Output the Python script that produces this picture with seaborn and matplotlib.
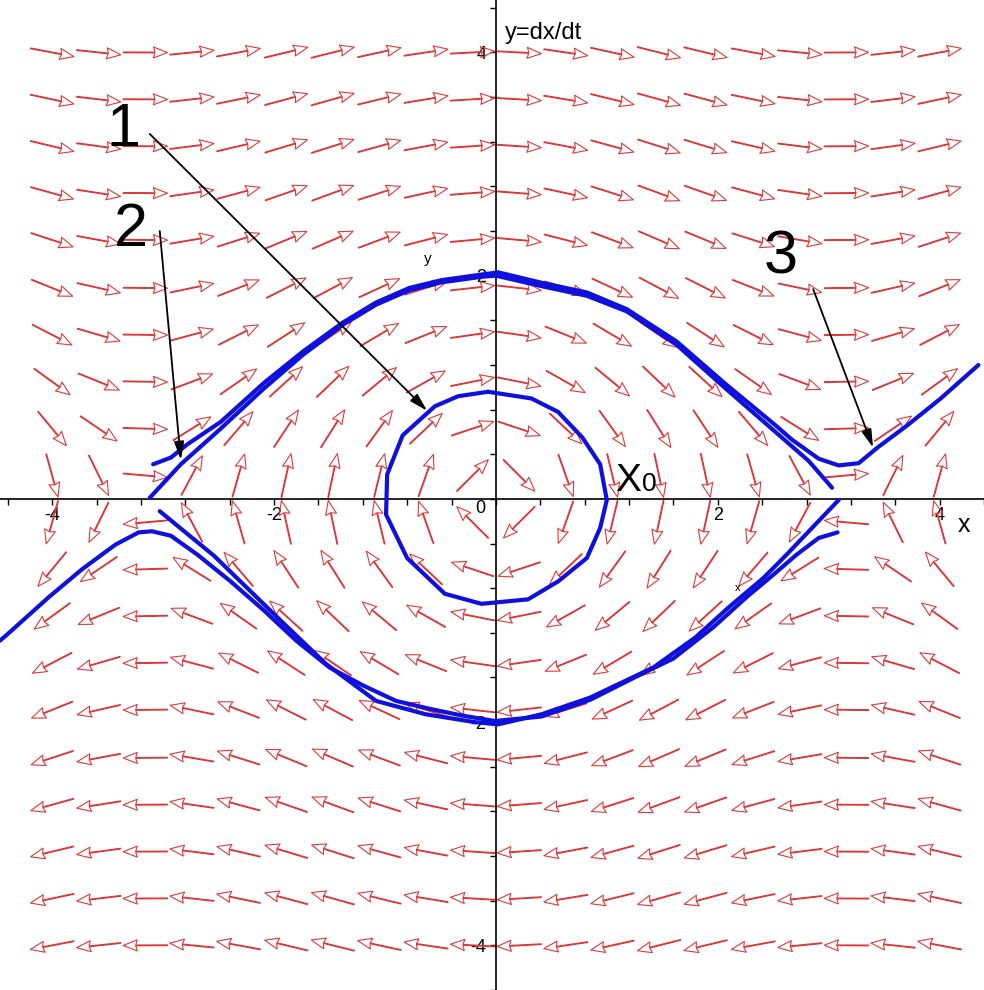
import numpy as np
import pandas as pd
import seaborn as sns
import matplotlib.pyplot as plt

# grid of the direction field (x' = y, y' = -sin x)
grid_x = [-4.0, -3.58, -3.16, -2.74, -2.32, -1.89, -1.47, -1.05, -0.63, -0.21,
          0.21, 0.63, 1.05, 1.47, 1.89, 2.32, 2.74, 3.16, 3.58, 4.0]
grid_y = [-4.0, -3.58, -3.16, -2.74, -2.32, -1.89, -1.47, -1.05, -0.63, -0.21,
          0.21, 0.63, 1.05, 1.47, 1.89, 2.32, 2.74, 3.16, 3.58, 4.0]

# trajectory 1: closed orbit around the centre
orbit_x = [-0.07, 0.32, 0.56, 0.78, 0.94, 1.00, 0.94, 0.82, 0.56, 0.29, -0.13,
           -0.46, -0.80, -0.99, -0.98, -0.84, -0.55, -0.34, -0.07]
orbit_y = [0.96, 0.90, 0.78, 0.55, 0.31, -0.01, -0.26, -0.53, -0.74, -0.90, -0.94,
           -0.85, -0.53, -0.14, 0.22, 0.57, 0.83, 0.92, 0.96]

# upper curve close to the separatrix
upper_x = [-3.12, -2.84, -2.48, -2.09, -1.74, -1.38, -1.08, -0.78, -0.49, -0.13,
           0.0, 0.44, 0.82, 1.18, 1.63, 2.07, 2.52, 2.82, 3.03]
upper_y = [0.01, 0.31, 0.63, 0.99, 1.29, 1.56, 1.74, 1.87, 1.94, 1.99,
           2.0, 1.90, 1.82, 1.68, 1.38, 0.99, 0.60, 0.34, 0.10]

# lower curve close to the separatrix
lower_x = [-3.03, -2.81, -2.54, -2.24, -1.94, -1.53, -1.08, -0.63, -0.19, 0.02,
           0.41, 0.85, 1.42, 1.80, 2.10, 2.41, 2.62, 2.85, 3.09]
lower_y = [-0.11, -0.29, -0.51, -0.80, -1.09, -1.48, -1.81, -1.93, -2.00, -2.02,
           -1.93, -1.78, -1.51, -1.24, -0.97, -0.71, -0.50, -0.26, -0.01]

# rotating trajectory above (curve 2 / 3)
rot_up_x = [-3.09, -2.93, -2.78, -2.48, -2.09, -1.74, -1.38, -1.08, -0.78, -0.49,
            -0.13, 0.02, 0.44, 0.82, 1.18, 1.63, 2.07, 2.52, 2.67, 2.91, 3.09,
            3.27, 3.44, 3.71, 4.01, 4.35]
rot_up_y = [0.31, 0.37, 0.49, 0.69, 1.04, 1.32, 1.58, 1.76, 1.89, 1.96,
            2.01, 2.03, 1.93, 1.85, 1.70, 1.41, 1.03, 0.66, 0.53, 0.36, 0.30,
            0.32, 0.46, 0.66, 0.90, 1.20]

# rotating trajectory below
rot_dn_x = [-4.47, -4.40, -4.03, -3.73, -3.43, -3.22, -3.10, -2.93, -2.69, -2.39,
            -2.09, -1.80, -1.50, -1.20, -0.90, -0.60, -0.31, -0.01, 0.41, 0.85,
            1.25, 1.60, 1.96, 2.26, 2.50, 2.71, 2.91, 3.08]
rot_dn_y = [-1.27, -1.21, -0.88, -0.63, -0.41, -0.30, -0.29, -0.33, -0.50, -0.74,
            -1.00, -1.27, -1.51, -1.67, -1.81, -1.88, -1.94, -1.99, -1.95, -1.80,
            -1.60, -1.43, -1.15, -0.88, -0.68, -0.50, -0.35, -0.30]

x_tick_labels = {-4.0: '-4', -2.0: '-2', 2.0: '2', 4.0: '4'}
y_tick_labels = {-4.0: '-4', -2.0: '-2', 2.0: '2', 4.0: '4'}

sns.set_theme(style='white')
plt.rcParams['font.family'] = ['Liberation Sans', 'DejaVu Sans']
plt.rcParams['text.color'] = 'black'

fig = plt.figure(figsize=(9.84, 9.90), dpi=100)
ax = fig.add_axes([0, 0, 1, 1])
ax.set_xlim(-4.47, 4.31)
ax.set_ylim(-4.37, 4.47)

# direction field, every arrow the same length
X, Y = np.meshgrid(grid_x, grid_y)
U = Y
V = -np.sin(X)
N = np.hypot(U, V)
arrow_len = 0.40
ax.quiver(X, Y, U / N * arrow_len, V / N * arrow_len, angles='xy', scale_units='xy',
          scale=1, pivot='middle', width=0.0008, headwidth=14, headlength=18,
          headaxislength=16, facecolors='none', edgecolors='#dc3a3a', linewidths=0.8,
          zorder=1)

blue = '#1010dd'
curves = [(orbit_x, orbit_y), (upper_x, upper_y), (lower_x, lower_y),
          (rot_up_x, rot_up_y), (rot_dn_x, rot_dn_y)]
for cx, cy in curves:
    df = pd.DataFrame({'x': cx, 'y': cy})
    sns.lineplot(data=df, x='x', y='y', sort=False, estimator=None, color=blue,
                 lw=3.0, ax=ax, zorder=3)

# axes through the origin
for side in ['top', 'right']:
    ax.spines[side].set_visible(False)
ax.spines['left'].set_position(('data', 0))
ax.spines['bottom'].set_position(('data', 0))
for side in ['left', 'bottom']:
    ax.spines[side].set_color('black')
    ax.spines[side].set_linewidth(1.2)
    ax.spines[side].set_zorder(2)

ticks = np.round(np.arange(-4.4, 4.41, 0.4), 2)
ax.set_xticks(ticks, labels=[x_tick_labels.get(t, '') for t in ticks])
ax.set_yticks(ticks, labels=[y_tick_labels.get(t, '') for t in ticks])
ax.tick_params(axis='both', direction='out', length=4, width=1, colors='black',
               labelsize=13, bottom=True, left=True)
ax.tick_params(axis='x', pad=2)
ax.tick_params(axis='y', pad=3)
ax.set_xlabel('')
ax.set_ylabel('')
ax.text(-0.14, -0.09, '0', fontsize=13, ha='center', va='center')

ax.text(0.08, 4.12, 'y=dx/dt', fontsize=17, ha='left', va='baseline')
ax.text(4.22, -0.23, 'x', fontsize=18, ha='center', va='center')
ax.text(-0.61, 2.15, 'y', fontsize=11, ha='center', va='center')
ax.text(2.18, -0.80, 'x', fontsize=8, ha='center', va='center')

# numbered pointers
ax.text(-3.36, 3.16, '1', fontsize=44, ha='center', va='baseline')
ax.text(-3.29, 2.27, '2', fontsize=44, ha='center', va='baseline')
ax.text(2.57, 2.02, '3', fontsize=44, ha='center', va='baseline')
pointers = [((-3.12, 3.27), (-0.62, 0.79)),
            ((-3.03, 2.40), (-2.84, 0.35)),
            ((2.86, 1.88), (3.40, 0.46))]
for start, end in pointers:
    ax.annotate('', xy=end, xytext=start, zorder=4,
                arrowprops=dict(arrowstyle='-|>,head_length=0.9,head_width=0.25',
                                color='black', lw=1.3, shrinkA=0, shrinkB=0))

ax.text(1.077, 0.071, 'X', fontsize=28, ha='left', va='baseline')
ax.text(1.32, 0.071, '0', fontsize=19, ha='left', va='baseline')

fig.savefig('out.png', dpi=100, facecolor='white')
